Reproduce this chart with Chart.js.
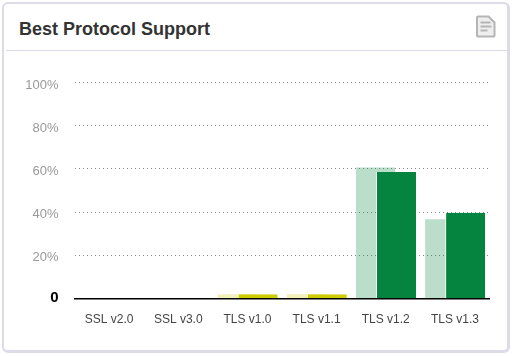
<!DOCTYPE html>
<html lang="en">
<head>
    <meta charset="UTF-8">
    <title>Best Protocol Support</title>
    <script src="https://cdn.jsdelivr.net/npm/chart.js"></script>
    <style>
        html, body { margin: 0; padding: 0; background: #fff; }
        #card {
            position: absolute; left: 2px; top: 2px; width: 503px; height: 346px;
            border: 3px solid #dcdbe8; border-radius: 6px;
            border-top-width: 2px; border-left-width: 2px;
        }
        #title {
            position: absolute; left: 19px; top: 19px; margin: 0;
            font: bold 18px "Liberation Sans", sans-serif; line-height: 20px; color: #333;
        }
        #rule { position: absolute; left: 6px; top: 50px; width: 502px; height: 1px; background: #dcdbe8; }
        #icon { position: absolute; left: 476px; top: 15px; }
        #chart { position: absolute; left: 0; top: 0; }
    </style>
</head>
<body>
    <div id="card"></div>
    <h1 id="title">Best Protocol Support</h1>
    <div id="rule"></div>
    <svg id="icon" width="20" height="23" viewBox="0 0 20 23">
        <path d="M2 1.5H12.5L18.5 7.5V20.5Q18.5 21.5 17.5 21.5H2Q1 21.5 1 20.5V2.5Q1 1.5 2 1.5Z" fill="#eeeeee" stroke="#b5b5b5" stroke-width="2"/>
        <path d="M4.5 7.5H14.5M4.5 11.5H15.5M4.5 15.5H11.5" stroke="#b5b5b5" stroke-width="2"/>
    </svg>
    <canvas id="chart" width="512" height="356"></canvas>

    <script>
        const labels = ['SSL v2.0', 'SSL v3.0', 'TLS v1.0', 'TLS v1.1', 'TLS v1.2', 'TLS v1.3'];
        const previousValues = [0, 0, 2, 2, 60.6, 36.7];
        const currentValues = [0, 0, 2, 2, 58.6, 39.7];
        const yTicks = [0, 20, 40, 60, 80, 100];

        // TLS v1.0 and v1.1 are yellow, the rest green
        const currentColors = ['#05843f', '#05843f', '#cccc00', '#cccc00', '#05843f', '#05843f'];
        const previousColors = ['rgba(5,132,63,0.27)', 'rgba(5,132,63,0.27)', 'rgba(204,204,0,0.27)', 'rgba(204,204,0,0.27)', 'rgba(5,132,63,0.27)', 'rgba(5,132,63,0.27)'];

        // the left bar of each group has to sit under the right one, chart.js does it the other way round
        const leftBarBelow = {
            id: 'leftBarBelow',
            beforeDatasetsDraw: function(chart) {
                chart.getDatasetMeta(0).controller.draw();
            },
            beforeDatasetDraw: function(chart, args) {
                if (args.index === 0) return false;
            }
        };

        const ctx = document.getElementById('chart').getContext('2d');
        const chart = new Chart(ctx, {
            type: 'bar',
            plugins: [leftBarBelow],
            data: {
                labels: labels,
                datasets: [
                    {
                        label: 'Previous',
                        data: previousValues,
                        backgroundColor: previousColors,
                        borderWidth: 0,
                        barPercentage: 1.902
                    },
                    {
                        label: 'Current',
                        data: currentValues,
                        backgroundColor: currentColors,
                        borderColor: '#fff',
                        borderWidth: { left: 1, top: 0, right: 0, bottom: 0 },
                        borderSkipped: false,
                        barPercentage: 1.951
                    }
                ]
            },
            options: {
                responsive: false,
                animation: false,
                layout: { padding: { left: 0, right: 22.5, top: 82.5, bottom: 0 } },
                categoryPercentage: 0.593,
                plugins: { legend: { display: false }, tooltip: { enabled: false } },
                scales: {
                    x: {
                        grid: { display: false },
                        border: { color: '#000', width: 1.5 },
                        ticks: {
                            color: '#444',
                            maxRotation: 0,
                            padding: 6,
                            font: { family: 'Liberation Sans', size: 12 }
                        },
                        afterFit: function(scale) { scale.height = 57.5; }
                    },
                    y: {
                        min: 0,
                        max: 100,
                        afterBuildTicks: function(scale) {
                            scale.ticks = yTicks.map(function(v) { return { value: v }; });
                        },
                        grid: { color: '#888', drawTicks: false, lineWidth: 1 },
                        border: { display: false, dash: [1, 3] },
                        ticks: {
                            padding: 16,
                            // empty lines nudge the labels: percents down from their grid line, the 0 up
                            callback: function(v) { return v === 0 ? ['0', ''] : ['', v + '%']; },
                            color: function(c) { return c.tick && c.tick.value === 0 ? '#000' : '#999'; },
                            font: function(c) {
                                return c.tick && c.tick.value === 0
                                    ? { family: 'Liberation Sans', size: 15, weight: 'bold', lineHeight: '2px' }
                                    : { family: 'Liberation Sans', size: 13, lineHeight: '5px' };
                            }
                        },
                        afterFit: function(scale) { scale.width = 74.5; }
                    }
                }
            }
        });
    </script>
</body>
</html>
